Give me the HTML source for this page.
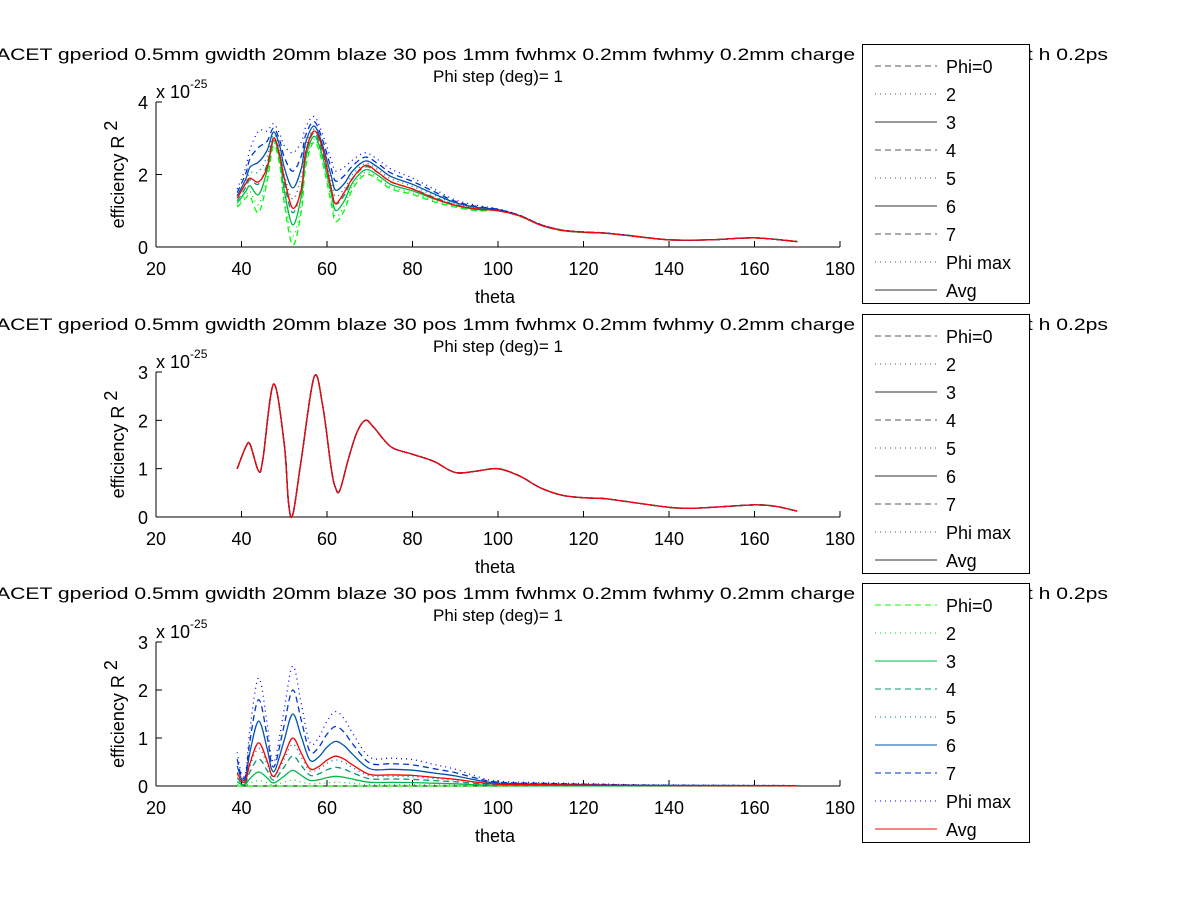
<!DOCTYPE html>
<html><head><meta charset="utf-8"><style>
body{margin:0;background:#fff;}
svg{display:block;font-family:"Liberation Sans",Arial,sans-serif;}
</style></head><body>
<svg id="fig" width="1200" height="901" viewBox="0 0 1200 901" xmlns="http://www.w3.org/2000/svg"></svg>
<script>
// ---- data (units of 1e-25) ----
const xTicks = [20,40,60,80,100,120,140,160,180];
const seriesNames = ["Phi=0","2","3","4","5","6","7","Phi max","Avg"];
const thetaTop = [39,41,42,44,46,47.5,49,50,52,54,55,57,59,61,62,64,66,69,72,75,80,85,90,95,100,105,110,115,120,125,130,140,150,160,170];
const topPhi0 = [1.1,1.35,1.4,0.95,1.8,2.8,2.2,1.2,0.05,1.0,2.2,2.9,2.3,1.2,0.7,1.0,1.6,2.0,1.85,1.6,1.45,1.25,1.1,1.0,1.0,0.85,0.6,0.45,0.4,0.38,0.32,0.2,0.2,0.25,0.15];
const topPhiMax = [1.6,2.2,2.7,3.2,3.2,3.4,3.1,2.8,2.6,2.9,3.3,3.6,3.1,2.4,2.1,2.2,2.4,2.6,2.4,2.15,1.9,1.6,1.3,1.15,1.05,0.88,0.62,0.47,0.42,0.39,0.33,0.2,0.2,0.25,0.15];
const topAvg = [1.35,1.75,1.9,1.8,2.2,3.0,2.5,1.9,1.07,1.6,2.6,3.2,2.7,1.6,1.2,1.5,1.9,2.25,2.05,1.8,1.6,1.35,1.15,1.05,1.0,0.86,0.6,0.46,0.41,0.38,0.32,0.2,0.2,0.25,0.15];
const topMix = [0,0.1,0.22,0.35,0.5,0.62,0.8,1];
const thetaMid = [39,41,42,44,45,47.5,50,51,52,54,57,59,61,62,63,65,67,69,71,75,80,85,90,95,100,105,110,115,120,125,130,140,145,150,160,165,170];
const midAvg = [1.0,1.45,1.5,0.95,1.2,2.75,1.5,0.3,0.05,1.2,2.9,2.3,1.0,0.6,0.55,1.2,1.75,2.0,1.85,1.45,1.3,1.15,0.92,0.95,1.0,0.85,0.6,0.45,0.4,0.38,0.32,0.2,0.18,0.2,0.25,0.22,0.12];
const thetaBot = [39,40,41,42,44,46,47,48,50,52,54,56,58,60,62,64,66,70,75,80,85,90,95,100,110,120,130,140,170];
const botPhiMax = [0.7,0.25,0.3,1.2,2.25,1.3,0.6,0.6,1.6,2.5,1.7,0.9,1.0,1.35,1.55,1.4,1.1,0.6,0.58,0.55,0.45,0.35,0.2,0.1,0.07,0.05,0.03,0.02,0.01];
const botMix = [0,0.05,0.13,0.25,0.35,0.6,0.8,1];
const botAvgMix = 0.4;

const colors = ["#00ff00","#00dd22","#00bb44","#009977","#007799","#0055aa","#0033cc","#0000ff","#ff0000"];
const dashes = ["6,4","1,4","","6,4","1,4","","6,4","1,4",""];
const NS="http://www.w3.org/2000/svg";
const svg=document.getElementById('fig');
function mk(tag,attrs,parent){const e=document.createElementNS(NS,tag);for(const k in attrs)e.setAttribute(k,attrs[k]);(parent||svg).appendChild(e);return e;}
const X0=156,X1=840;
function xs(t){return X0+(t-20)/160*(X1-X0);}
function smooth(pts){
  let d='M'+pts[0][0].toFixed(1)+','+pts[0][1].toFixed(1);
  for(let i=0;i<pts.length-1;i++){
    const p0=pts[Math.max(0,i-1)],p1=pts[i],p2=pts[i+1],p3=pts[Math.min(pts.length-1,i+2)];
    const c1=[p1[0]+(p2[0]-p0[0])/6,p1[1]+(p2[1]-p0[1])/6];
    const c2=[p2[0]-(p3[0]-p1[0])/6,p2[1]-(p3[1]-p1[1])/6];
    d+='C'+c1[0].toFixed(1)+','+c1[1].toFixed(1)+' '+c2[0].toFixed(1)+','+c2[1].toFixed(1)+' '+p2[0].toFixed(1)+','+p2[1].toFixed(1);
  }
  return d;
}

function panel(idx,y0,yTop,yMax,yTicks,series,gray){
  const g=mk('g',{});
  
  
  const ys=v=>y0-(v/yMax)*(y0-yTop);
  const t1=mk('text',{x:-4,y:y0-187,'font-size':17,textLength:1112,lengthAdjust:'spacingAndGlyphs'},g);
  t1.textContent="ACET gperiod 0.5mm gwidth 20mm blaze 30 pos 1mm fwhmx 0.2mm fwhmy 0.2mm charge 200pC bunchlengt h 0.2ps";
  
  
  const t2=mk('text',{x:498,y:y0-165,'font-size':17,'text-anchor':'middle'},g);
  t2.textContent="Phi step (deg)= 1";
  
  
  mk('line',{x1:X0,y1:y0,x2:X1,y2:y0,stroke:'#000'},g);
  mk('line',{x1:X0,y1:y0,x2:X0,y2:yTop,stroke:'#000'},g);
  xTicks.forEach(t=>{
    const x=xs(t);
    mk('line',{x1:x,y1:y0,x2:x,y2:y0-6,stroke:'#000'},g);
    const l=mk('text',{x:x,y:y0+28,'font-size':18,'text-anchor':'middle'},g);
    l.textContent=t;
    
    
  });
  yTicks.forEach(v=>{
    const y=ys(v);
    mk('line',{x1:X0,y1:y,x2:X0+6,y2:y,stroke:'#000'},g);
    const l=mk('text',{x:X0-8,y:y+7,'font-size':18,'text-anchor':'end'},g);
    l.textContent=v;
    
    
  });
  const ex=mk('text',{x:X0,y:yTop-4,'font-size':18},g);
  ex.innerHTML='x 10<tspan font-size="12" dy="-10">-25</tspan>';
  
  
  const xl=mk('text',{x:495,y:y0+56,'font-size':18,'text-anchor':'middle'},g);
  xl.textContent="theta";
  
  
  const yc=(y0+yTop)/2;
  const yl=mk('text',{x:124,y:yc,'font-size':18,'text-anchor':'middle',transform:`rotate(-90 124 ${yc})`},g);
  yl.innerHTML='efficiency R<tspan dy="-7"> 2</tspan>';
  
  
  series.forEach((s,i)=>{
    const pts=s.t.map((t,j)=>[xs(t),ys(s.v[j])]);
    const p=mk('path',{d:smooth(pts),fill:'none',stroke:colors[i],'stroke-width':1.3},g);
    if(dashes[i])p.setAttribute('stroke-dasharray',dashes[i]);
    
    
  });
  const ly=y0-203;
  const lg=mk('g',{},g);
  
  
  mk('rect',{x:862.5,y:ly+0.5,width:167,height:259,fill:'#fff',stroke:'#000'},lg);
  seriesNames.forEach((n,i)=>{
    const yy=ly+22+i*28;
    const e=mk('g',{},lg);
    
    
    const l=mk('line',{x1:875,y1:yy,x2:937,y2:yy,stroke:gray?(i%3==2?'#333':'#555'):colors[i],'stroke-width':1},e);
    if(dashes[i])l.setAttribute('stroke-dasharray',dashes[i]);
    const tx=mk('text',{x:946,y:yy+7,'font-size':18},e);
    tx.textContent=n;
  });
}
function mixSeries(t,a,b,f){return a.map((v,j)=>v+(b[j]-v)*f);}
const topSeries=topMix.map(f=>({t:thetaTop,v:mixSeries(thetaTop,topPhi0,topPhiMax,f)}));
topSeries.push({t:thetaTop,v:topAvg});
const midSeries=seriesNames.map(()=>({t:thetaMid,v:midAvg}));
const botSeries=botMix.map(f=>({t:thetaBot,v:botPhiMax.map(v=>v*f)}));
botSeries.push({t:thetaBot,v:botPhiMax.map(v=>v*botAvgMix)});
panel(0,247,102,4,[0,2,4],topSeries,true);
panel(1,517,372,3,[0,1,2,3],midSeries,true);
panel(2,786,642,3,[0,1,2,3],botSeries,false);
</script>
</body></html>
